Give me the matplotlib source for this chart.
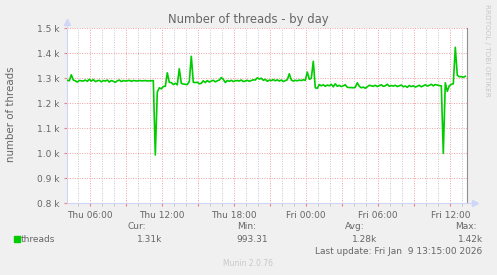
import matplotlib
matplotlib.use("Agg")
import matplotlib.pyplot as plt
import matplotlib.dates as mdates
from matplotlib.ticker import FuncFormatter
import pandas as pd

# samples every 10 minutes, Thu 04:05 -> Fri 13:15
threads = [
    1292, 1290, 1314, 1293, 1290, 1285, 1291, 1290, 1289, 1293,
    1288, 1296, 1289, 1295, 1287, 1290, 1292, 1286, 1291, 1289,
    1293, 1285, 1291, 1288, 1284, 1290, 1293, 1287, 1291, 1289,
    1290, 1292, 1288, 1291, 1290, 1289, 1291, 1290, 1290, 1291,
    1289, 1290, 1290, 1291, 993.31, 1245, 1262, 1258, 1267, 1268,
    1322, 1284, 1283, 1275, 1280, 1274, 1338, 1280, 1277, 1276,
    1275, 1287, 1388, 1284, 1283, 1284, 1278, 1280, 1290, 1283,
    1291, 1285, 1289, 1292, 1286, 1290, 1293, 1303, 1296, 1283,
    1291, 1288, 1292, 1287, 1290, 1291, 1289, 1293, 1287, 1289,
    1292, 1288, 1291, 1294, 1293, 1302, 1297, 1300, 1292, 1296,
    1288, 1293, 1291, 1295, 1290, 1294, 1289, 1293, 1287, 1291,
    1294, 1318, 1293, 1289, 1292, 1290, 1293, 1291, 1294, 1292,
    1325, 1296, 1300, 1368, 1262, 1260, 1275, 1270, 1274, 1268,
    1273, 1270, 1276, 1266, 1278, 1268, 1272, 1267, 1270, 1274,
    1264, 1263, 1263, 1262, 1264, 1282, 1268, 1262, 1265, 1260,
    1266, 1272, 1270, 1268, 1272, 1267, 1271, 1274, 1268, 1270,
    1276, 1268, 1271, 1269, 1272, 1267, 1270, 1273, 1266, 1269,
    1264, 1271, 1267, 1270, 1265, 1268, 1272, 1266, 1270, 1274,
    1269, 1272, 1276, 1270, 1275, 1273, 1271, 1270, 1000, 1282,
    1248, 1270, 1276, 1278, 1424, 1312, 1306, 1307, 1304, 1308,
]
times = pd.date_range("2026-01-08 04:05", periods=len(threads), freq="10min")

y_ticks = [800, 900, 1000, 1100, 1200, 1300, 1400, 1500]
y_labels = ["0.8 k", "0.9 k", "1.0 k", "1.1 k", "1.2 k", "1.3 k", "1.4 k", "1.5 k"]

stat_names = ["Cur:", "Min:", "Avg:", "Max:"]
stat_values = ["1.31k", "993.31", "1.28k", "1.42k"]

GREEN = "#00CC00"
FONT = "#666666"
AXIS = "#CFD6F8"
W, H = 497, 275

fig = plt.figure(figsize=(W / 100, H / 100), dpi=100, facecolor="#F0F0F0")
ax = fig.add_axes([67 / W, 1 - 203.3 / H, 400 / W, 175 / H])
ax.set_facecolor("white")

ax.plot(times, threads, color=GREEN, lw=1.2, zorder=3)

ax.set_xlim(pd.Timestamp("2026-01-08 04:03:30"), pd.Timestamp("2026-01-09 13:23:30"))
ax.set_ylim(800, 1500)
ax.set_yticks(y_ticks)
ax.set_yticklabels(y_labels)

ax.xaxis.set_major_locator(mdates.HourLocator(byhour=range(0, 24, 3)))
ax.xaxis.set_minor_locator(mdates.HourLocator())
ax.xaxis.set_major_formatter(FuncFormatter(
    lambda v, p: mdates.num2date(v).strftime("%a %H:%M")
    if mdates.num2date(v).hour % 6 == 0 else ""))

ax.grid(which="minor", axis="x", color="#C8C8C8", linestyle=(0, (1, 1.5)), lw=0.7)
ax.grid(which="major", color="#F0A0A0", linestyle=(0, (1, 1.5)), lw=0.7)
ax.set_axisbelow(True)

ax.tick_params(which="major", axis="both", length=2.5, width=0.8, color="#F08080",
               labelsize=6.5, labelcolor=FONT, pad=3)
ax.tick_params(which="minor", axis="x", length=2, width=0.7, color="#C8C8C8")

for s in ("left", "bottom"):
    ax.spines[s].set_color(AXIS)
ax.spines["top"].set_visible(False)
ax.spines["right"].set_color("#909090")

# axis arrows
ax.plot([0], [1.035], marker="^", ms=5, color=AXIS, transform=ax.transAxes, clip_on=False)
ax.plot([0, 0], [1, 1.03], color=AXIS, lw=0.8, transform=ax.transAxes, clip_on=False)
ax.plot([1.02], [0], marker=">", ms=5, color=AXIS, transform=ax.transAxes, clip_on=False)
ax.plot([1, 1.015], [0, 0], color=AXIS, lw=0.8, transform=ax.transAxes, clip_on=False)


def ftext(x, y, s, **kw):
    kw.setdefault("color", FONT)
    kw.setdefault("fontsize", 6.5)
    fig.text(x / W, 1 - y / H, s, va="center", **kw)


ftext(248, 19, "Number of threads - by day", ha="center", fontsize=8.4)
ftext(11, 114, "number of threads", ha="center", rotation=90, fontsize=7.4)
ftext(487, 50, "RRDTOOL / TOBI OETIKER", ha="center", rotation=270,
      fontsize=5.2, color="#C8C8C8")

# legend
fig.patches.append(plt.Rectangle((14 / W, 1 - 242 / H), 6 / W, 6 / H,
                                 transform=fig.transFigure, color=GREEN))
ftext(21, 239, "threads", ha="left")
name_right = [145.7, 256, 364.3, 476.7]
value_right = [162.7, 267.7, 377.7, 482.7]
for name, val, xn, xv in zip(stat_names, stat_values, name_right, value_right):
    ftext(xn, 226.5, name, ha="right")
    ftext(xv, 239, val, ha="right")
ftext(482.7, 251, "Last update: Fri Jan  9 13:15:00 2026", ha="right")
ftext(248, 263, "Munin 2.0.76", ha="center", fontsize=5.5, color="#C8C8C8")

fig.savefig("out.png", dpi=100, facecolor=fig.get_facecolor())
